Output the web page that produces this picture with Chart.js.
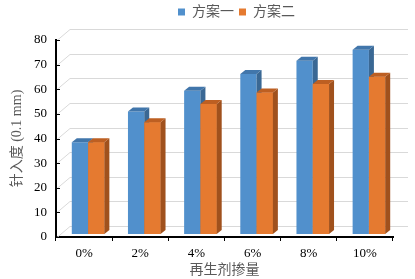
<!DOCTYPE html>
<html><head><meta charset="utf-8">
<script src="https://cdn.jsdelivr.net/npm/chart.js@4/dist/chart.umd.min.js"></script>
<style>html,body{margin:0;padding:0;background:#fff}#wrap{width:415px;height:279px}</style>
</head><body><div id="wrap"><canvas id="c" width="415" height="279"></canvas></div>
<script>
const categories = ['0%', '2%', '4%', '6%', '8%', '10%'];
const seriesNames = ['方案一', '方案二'];
const plan1 = [37.3, 49.7, 58.2, 65.0, 70.4, 74.8];
const plan2 = [37.3, 45.4, 52.8, 57.5, 60.9, 63.9];
const yTicks = [0, 10, 20, 30, 40, 50, 60, 70, 80];

const SHIFT_X = 4, SHIFT_Y = -3, DX = 5, DY = 4;
const WALL_X = 14, WALL_Y = 11;
const faces = [
  {front:'#5190CC', side:'#3A6894', top:'#4176AB'},
  {front:'#E57A30', side:'#A0511D', top:'#BD5F22'}
];

const serif = "'Liberation Serif','Noto Sans CJK SC',serif";

function drawFaces(ctx, bar, f) {
  const {x, y, base, width} = bar.getProps(['x', 'y', 'base', 'width'], true);
  const l = x - width / 2, r = x + width / 2;
  ctx.fillStyle = f.side;
  ctx.beginPath();
  ctx.moveTo(r, y); ctx.lineTo(r + DX, y - DY); ctx.lineTo(r + DX, base - DY); ctx.lineTo(r, base);
  ctx.closePath(); ctx.fill();
  ctx.fillStyle = f.top;
  ctx.beginPath();
  ctx.moveTo(l, y); ctx.lineTo(l + DX, y - DY); ctx.lineTo(r + DX, y - DY); ctx.lineTo(r, y);
  ctx.closePath(); ctx.fill();
}

const threeD = {
  id: 'threeD',
  beforeLayout(chart) {
    const lg = chart.legend;
    if (lg && !lg._patched) {
      const f = lg.fit.bind(lg);
      lg.fit = function() { f(); this.height += 11; };
      lg._patched = true;
    }
  },
  afterLayout(chart) {
    const lg = chart.legend;
    if (lg) { lg.left += 38; lg.right += 38; lg.adjustHitBoxes(); }
  },
  beforeDatasetsDraw(chart) {
    const ctx = chart.ctx, y = chart.scales.y, a = chart.chartArea;
    ctx.save();
    ctx.strokeStyle = '#D9D9D9';
    ctx.lineWidth = 1;
    yTicks.forEach(v => {
      const py = Math.round(y.getPixelForValue(v)) + 0.5;
      ctx.beginPath();
      ctx.moveTo(a.left + 1, py);
      ctx.lineTo(a.left + WALL_X, py - WALL_Y);
      ctx.lineTo(a.right + 15, py - WALL_Y);
      ctx.stroke();
    });
    ctx.strokeStyle = '#000';
    yTicks.forEach(v => {
      const py = Math.round(y.getPixelForValue(v)) + 0.5;
      ctx.beginPath();
      ctx.moveTo(a.left, py);
      ctx.lineTo(a.left + 4, py);
      ctx.stroke();
    });
    ctx.restore();
    ctx.save();
    ctx.translate(SHIFT_X, SHIFT_Y);
  },
  afterDatasetsDraw(chart) {
    const ctx = chart.ctx;
    const m0 = chart.getDatasetMeta(0), m1 = chart.getDatasetMeta(1);
    m0.data.forEach(bar => drawFaces(ctx, bar, faces[0]));
    m1.data.forEach(bar => { bar.draw(ctx); drawFaces(ctx, bar, faces[1]); });
    ctx.restore();
  }
};

new Chart(document.getElementById('c'), {
  type: 'bar',
  data: {
    labels: categories,
    datasets: [
      {label: seriesNames[0], data: plan1, backgroundColor: faces[0].front},
      {label: seriesNames[1], data: plan2, backgroundColor: faces[1].front}
    ]
  },
  options: {
    responsive: false,
    animation: false,
    events: [],
    layout: {padding: {left: 4, right: 22, top: 0, bottom: 0}},
    categoryPercentage: 0.58,
    barPercentage: 1.0,
    plugins: {
      legend: {
        position: 'top',
        labels: {
          boxWidth: 7, boxHeight: 7, padding: 5, color: '#595959',
          font: {family: serif, size: 14}
        }
      },
      tooltip: {enabled: false}
    },
    scales: {
      x: {
        offset: true,
        grid: {drawOnChartArea: false, drawTicks: true, tickLength: 4, color: '#000'},
        border: {display: true, color: '#000', width: 2},
        ticks: {color: '#000', padding: 5, font: {family: serif, size: 13}},
        title: {display: true, text: '再生剂掺量', color: '#595959', padding: {top: 0, bottom: 0}, font: {family: serif, size: 14}},
        afterFit: s => { s.height = 42; }
      },
      y: {
        min: 0, max: 80,
        grid: {display: false, drawTicks: false},
        border: {display: true, color: '#000', width: 2},
        ticks: {stepSize: 10, color: '#000', padding: 9, font: {family: serif, size: 13}},
        title: {display: true, text: '针入度 (0.1 mm)', color: '#595959', padding: {top: 5, bottom: 0}, font: {family: serif, size: 14}},
        afterFit: s => { s.width = 52; }
      }
    }
  },
  plugins: [threeD]
});
</script>
</body></html>
